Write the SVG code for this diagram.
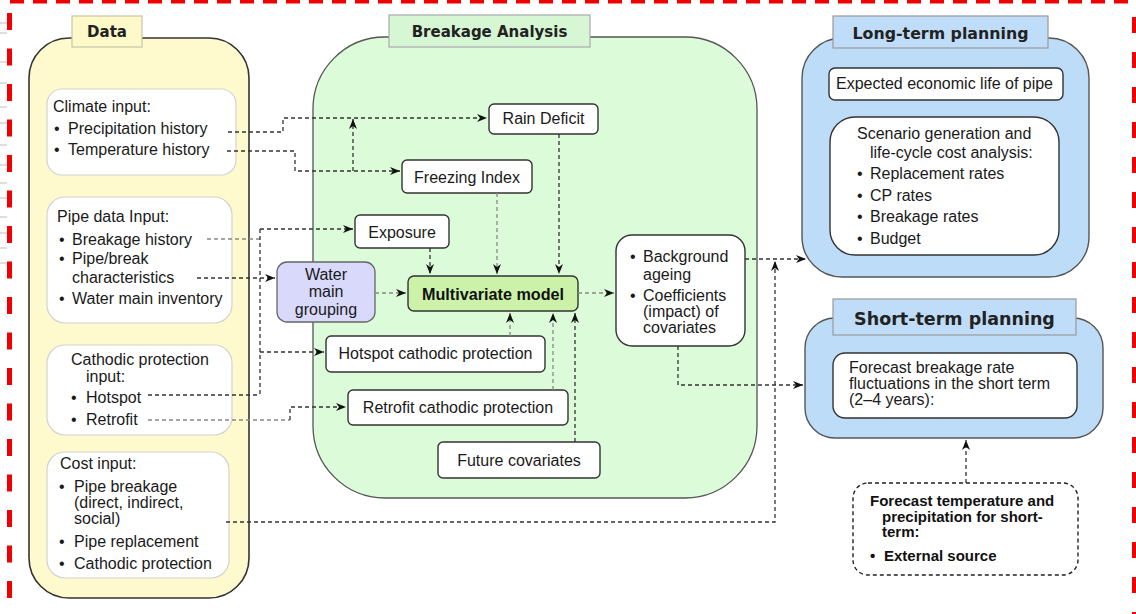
<svg xmlns="http://www.w3.org/2000/svg" width="1136" height="614" viewBox="0 0 1136 614">
<defs>
<marker id="ah" viewBox="0 0 10 8" refX="10" refY="4" markerWidth="10" markerHeight="8" orient="auto" markerUnits="userSpaceOnUse"><path d="M0,0 L10,4 L0,8 L3,4 z" fill="#111"/></marker>
</defs>
<style>
.t{font-family:"Liberation Sans",Arial,sans-serif;font-size:16px;fill:#1a1a1a}
.m{text-anchor:middle}
.hb{font-family:"DejaVu Sans",Verdana,sans-serif;font-weight:bold;font-size:15px;fill:#222;text-anchor:middle}
.fb{font-family:"Liberation Sans",Arial,sans-serif;font-weight:bold;font-size:15px;fill:#111}
.wb{fill:#fff;stroke:#d2d2d2;stroke-width:1.2}
.nb{fill:#fff;stroke:#333;stroke-width:1.4}
.c{fill:none;stroke:#333;stroke-width:1.3;stroke-dasharray:4 3}
.cl{fill:none;stroke:#888;stroke-width:1.3;stroke-dasharray:4 3}
.tick{stroke:#bdbdbd;stroke-width:1}
</style>

<g id="frame">
<line x1="10" y1="1.5" x2="1136" y2="1.5" stroke="#f00000" stroke-width="4" stroke-dasharray="14 9"/>
<line x1="9.5" y1="13" x2="9.5" y2="614" stroke="#f00000" stroke-width="5" stroke-dasharray="17 18.5"/>
<line x1="1134.5" y1="17" x2="1134.5" y2="614" stroke="#f00000" stroke-width="5" stroke-dasharray="16 19"/>
<g>
<line class="tick" x1="0" y1="23" x2="7" y2="23"/><line class="tick" x1="0" y1="33" x2="7" y2="33"/>
<line class="tick" x1="0" y1="62" x2="7" y2="62"/><line class="tick" x1="0" y1="83" x2="7" y2="83"/>
<line class="tick" x1="0" y1="107" x2="7" y2="107"/><line class="tick" x1="0" y1="123" x2="7" y2="123"/>
<line class="tick" x1="0" y1="145" x2="7" y2="145"/><line class="tick" x1="0" y1="165" x2="7" y2="165"/>
<line class="tick" x1="0" y1="183" x2="7" y2="183"/><line class="tick" x1="0" y1="198" x2="7" y2="198"/>
<line class="tick" x1="0" y1="217" x2="7" y2="217"/><line class="tick" x1="0" y1="233" x2="7" y2="233"/>
<line class="tick" x1="0" y1="248" x2="7" y2="248"/><line class="tick" x1="0" y1="263" x2="7" y2="263"/>
</g>
</g>

<g id="data">
<rect x="29" y="38" width="220" height="560" rx="40" fill="#fefacd" stroke="#333" stroke-width="1.6"/>
<rect x="72" y="16" width="70" height="31" fill="#fdf9c8" stroke="#c6c6a6" stroke-width="1.2"/>
<text class="hb" x="107" y="37">Data</text>
</g>

<g id="climate">
<rect class="wb" x="47" y="89" width="189" height="86" rx="15"/>
<text class="t" x="53" y="112">Climate input:</text>
<text class="t" x="54" y="134">•</text><text class="t" x="68" y="134">Precipitation history</text>
<text class="t" x="54" y="155">•</text><text class="t" x="68" y="155">Temperature history</text>
</g>

<g id="pipedata">
<rect class="wb" x="47" y="197" width="185" height="126" rx="18"/>
<text class="t" x="57" y="222">Pipe data Input:</text>
<text class="t" x="59" y="245">•</text><text class="t" x="72" y="245">Breakage history</text>
<text class="t" x="59" y="264">•</text><text class="t" x="72" y="264">Pipe/break</text>
<text class="t" x="72" y="283">characteristics</text>
<text class="t" x="59" y="304">•</text><text class="t" x="72" y="304">Water main inventory</text>
</g>

<g id="cathodic">
<rect class="wb" x="47" y="345" width="185" height="90" rx="18"/>
<text class="t" x="71" y="365">Cathodic protection</text>
<text class="t" x="86" y="382">input:</text>
<text class="t" x="71" y="403">•</text><text class="t" x="86" y="403">Hotspot</text>
<text class="t" x="71" y="425">•</text><text class="t" x="86" y="425">Retrofit</text>
</g>

<g id="cost">
<rect class="wb" x="47" y="452" width="182" height="126" rx="18"/>
<text class="t" x="60" y="469">Cost input:</text>
<text class="t" x="59" y="492">•</text><text class="t" x="74" y="492">Pipe breakage</text>
<text class="t" x="74" y="508">(direct, indirect,</text>
<text class="t" x="74" y="524">social)</text>
<text class="t" x="59" y="547">•</text><text class="t" x="74" y="547">Pipe replacement</text>
<text class="t" x="59" y="569">•</text><text class="t" x="74" y="569">Cathodic protection</text>
</g>

<g id="breakage">
<rect x="313" y="37" width="444" height="461" rx="72" fill="#dcfbd9" stroke="#555" stroke-width="1.3"/>
<rect x="389" y="15" width="201" height="32" fill="#d6f6d4" stroke="#aaa" stroke-width="1.2"/>
<text class="hb" x="489.5" y="37">Breakage Analysis</text>
</g>

<g id="rain"><rect class="nb" x="489" y="104" width="109" height="30" rx="5"/><text class="t m" x="543.5" y="124">Rain Deficit</text></g>
<g id="freezing"><rect class="nb" x="402" y="160" width="130" height="33" rx="5"/><text class="t m" x="467" y="183">Freezing Index</text></g>
<g id="exposure"><rect class="nb" x="355" y="215" width="94" height="33" rx="5"/><text class="t m" x="402" y="238">Exposure</text></g>
<g id="grouping"><rect x="277" y="262" width="98" height="60" rx="10" fill="#d9d9fb" stroke="#666" stroke-width="1.3"/>
<text class="t m" x="326" y="280">Water</text><text class="t m" x="326" y="297">main</text><text class="t m" x="326" y="315">grouping</text></g>
<g id="multivariate"><rect x="408" y="276" width="170" height="35" rx="6" fill="#ccf2aa" stroke="#333" stroke-width="1.4"/>
<text class="fb" x="493" y="300" text-anchor="middle" style="font-size:16.2px">Multivariate model</text></g>
<g id="hotspotcp"><rect class="nb" x="326" y="336" width="219" height="36" rx="5" stroke="#555"/><text class="t m" x="435.5" y="359">Hotspot cathodic protection</text></g>
<g id="retrofitcp"><rect class="nb" x="348" y="390" width="220" height="35" rx="5"/><text class="t m" x="458" y="413">Retrofit cathodic protection</text></g>
<g id="future"><rect class="nb" x="438" y="442" width="162" height="36" rx="5"/><text class="t m" x="519" y="466">Future covariates</text></g>
<g id="background"><rect class="nb" x="616" y="235" width="129" height="111" rx="16"/>
<text class="t" x="630" y="262">•</text><text class="t" x="643" y="262">Background</text>
<text class="t" x="643" y="280">ageing</text>
<text class="t" x="630" y="301">•</text><text class="t" x="643" y="301">Coefficients</text>
<text class="t" x="643" y="317">(impact) of</text>
<text class="t" x="643" y="333">covariates</text></g>

<g id="longterm">
<rect x="802" y="38" width="287" height="239" rx="40" fill="#bddcf7" stroke="#555" stroke-width="1.4"/>
<rect x="833" y="16" width="215" height="32" fill="#bfddf8" stroke="#999" stroke-width="1.2"/>
<text class="hb" x="940.5" y="39" style="font-size:15.8px">Long-term planning</text>
<rect class="nb" x="829" y="68" width="234" height="32" rx="6" stroke="#555"/>
<text class="t" x="836" y="89">Expected economic life of pipe</text>
<rect class="nb" x="830" y="117" width="229" height="138" rx="25" stroke="#555"/>
<text class="t" x="857" y="139">Scenario generation and</text>
<text class="t" x="870" y="158">life-cycle cost analysis:</text>
<text class="t" x="857" y="179">•</text><text class="t" x="870" y="179">Replacement rates</text>
<text class="t" x="857" y="201">•</text><text class="t" x="870" y="201">CP rates</text>
<text class="t" x="857" y="222">•</text><text class="t" x="870" y="222">Breakage rates</text>
<text class="t" x="857" y="244">•</text><text class="t" x="870" y="244">Budget</text>
</g>

<g id="shortterm">
<rect x="805" y="318" width="298" height="120" rx="30" fill="#bddcf7" stroke="#555" stroke-width="1.4"/>
<rect x="833" y="299" width="243" height="36" fill="#bfddf8" stroke="#999" stroke-width="1.2"/>
<text class="hb" x="954.5" y="325" style="font-size:17.5px">Short-term planning</text>
<rect class="nb" x="833" y="353" width="244" height="65" rx="12" stroke="#555"/>
<text class="t" x="849" y="373">Forecast breakage rate</text>
<text class="t" x="849" y="389">fluctuations in the short term</text>
<text class="t" x="849" y="405">(2–4 years):</text>
</g>

<g id="forecast">
<rect x="853" y="483" width="225" height="92" rx="15" fill="#fff" stroke="#222" stroke-width="1.4" stroke-dasharray="4 3"/>
<text class="fb" x="870" y="506">Forecast temperature and</text>
<text class="fb" x="882" y="522">precipitation for short-</text>
<text class="fb" x="882" y="537">term:</text>
<text class="fb" x="870" y="561">•</text><text class="fb" x="884" y="561">External source</text>
</g>

<g id="connectors">
<path class="c" d="M228,132 H283 V118 H487" marker-end="url(#ah)"/>
<path class="c" d="M227,151 H295 V171 H400" marker-end="url(#ah)"/>
<path class="c" d="M353,171 V119" marker-end="url(#ah)"/>
<path class="cl" d="M207,239 H260"/>
<path class="c" d="M260,229 V395"/>
<path class="c" d="M260,229 H353" marker-end="url(#ah)"/>
<path class="c" d="M148,395 H260"/>
<path class="c" d="M260,352 H324" marker-end="url(#ah)"/>
<path class="c" d="M197,278 H275" marker-end="url(#ah)"/>
<path class="cl" d="M148,420 H290"/>
<path class="c" d="M290,420 V407 H346" marker-end="url(#ah)"/>
<path class="cl" d="M375,293 H406" marker-end="url(#ah)"/>
<path class="c" d="M430,248 V274" marker-end="url(#ah)"/>
<path class="cl" d="M497,193 V274" marker-end="url(#ah)"/>
<path class="c" d="M559,134 V274" marker-end="url(#ah)"/>
<path class="cl" d="M510,336 V313" marker-end="url(#ah)"/>
<path class="cl" d="M553,390 V313" marker-end="url(#ah)"/>
<path class="c" d="M575,442 V313" stroke-dasharray="3 1.5" marker-end="url(#ah)"/>
<path class="cl" d="M578,293 H614" marker-end="url(#ah)"/>
<path class="c" d="M745,259 H806" marker-end="url(#ah)"/>
<path class="c" d="M678,346 V385 H803" marker-end="url(#ah)"/>
<path class="c" d="M226,522 H775 V261" marker-end="url(#ah)"/>
<path class="c" d="M966,483 V440" marker-end="url(#ah)"/>
</g>
</svg>
